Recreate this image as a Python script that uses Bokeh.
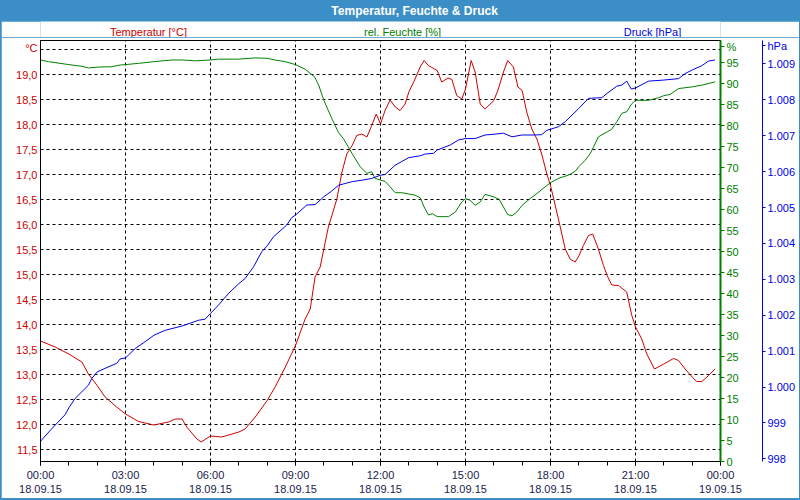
from bokeh.plotting import figure
from bokeh.models import Range1d, LinearAxis, FixedTicker, Label, Grid
from bokeh.layouts import column
from bokeh.embed import file_html
from bokeh.resources import INLINE

# ---------------- data ----------------
title_text = "Temperatur, Feuchte & Druck"
series_names = ["Temperatur [°C]", "rel. Feuchte [%]", "Druck [hPa]"]
unit_names = ["°C", "%", "hPa"]

temp_h = [0, 0.52, 1.0, 1.46, 1.69, 2.0, 2.28, 2.69, 3.0, 3.46, 4.0, 4.52, 4.75, 5.0, 5.16, 5.52, 5.67, 6.0,
          6.4, 7.0, 7.22, 7.58, 8.0, 8.28, 8.64, 9.0, 9.34, 9.52, 9.69, 9.87, 10.0, 10.16, 10.46, 10.64, 10.81,
          11.0, 11.16, 11.34, 11.52, 11.69, 11.85, 12.0,
          12.16, 12.34, 12.52, 12.69, 12.87, 13.0, 13.22, 13.4, 13.54, 13.69, 14.0, 14.16, 14.38, 14.52, 14.69,
          14.87, 15.0, 15.2, 15.34, 15.52, 15.69, 16.0, 16.16, 16.34, 16.49, 16.69, 16.85, 17.0, 17.16, 17.34,
          17.52, 17.69, 17.87, 18.0,
          18.28, 18.52, 18.69, 18.87, 19.0, 19.16, 19.34, 19.49, 19.69, 19.87, 20.0, 20.16, 20.4, 20.69, 20.87,
          21.0, 21.22, 21.4, 21.67, 22.0, 22.34, 22.52, 22.75, 23.0, 23.16, 23.34, 23.58, 23.81]
temp_c = [13.67, 13.55, 13.41, 13.25, 13.01, 12.78, 12.55, 12.35, 12.21, 12.06, 11.99, 12.05, 12.11, 12.11, 11.95,
          11.71, 11.65, 11.77,
          11.75, 11.85, 11.91, 12.15, 12.48, 12.75, 13.15, 13.58, 14.11, 14.31, 14.95, 15.15, 15.51, 15.95, 16.51,
          17.05, 17.41, 17.58, 17.78, 17.81, 17.75, 17.98, 18.21, 18.01,
          18.28, 18.49, 18.35, 18.28, 18.41, 18.65, 18.91, 19.15, 19.28, 19.18, 19.08, 18.85, 18.93, 18.9, 18.58,
          18.51, 18.71, 19.28, 19.05, 18.41, 18.31, 18.48, 18.71, 19.05, 19.28, 19.15, 18.75, 18.68, 18.25, 17.91,
          17.71, 17.41, 17.01, 16.78,
          16.11, 15.51, 15.31, 15.25, 15.37, 15.58, 15.78, 15.81, 15.51, 15.18, 14.98, 14.79, 14.78, 14.65, 14.18,
          13.95, 13.71, 13.41, 13.11, 13.21, 13.32, 13.28, 13.11, 12.95, 12.86, 12.86, 12.98, 13.11]

hum_h = [0, 0.28, 1.0, 1.46, 1.69, 2.0, 2.52, 2.81, 3.0, 3.46, 4.0, 4.64, 5.0, 5.46, 6.0,
         6.28, 7.0, 7.58, 8.0, 8.28, 8.64, 9.0, 9.34, 9.67, 9.82, 10.0, 10.28, 10.52, 10.69, 11.0, 11.28, 11.52,
         11.69, 11.81, 12.0,
         12.16, 12.34, 12.52, 12.75, 13.0, 13.22, 13.4, 13.54, 13.69, 13.84, 14.0, 14.4, 14.64, 14.87, 15.0, 15.16,
         15.34, 15.52, 15.69, 16.0, 16.19, 16.34, 16.49, 16.64, 16.81, 17.0, 17.28, 17.52, 17.81, 18.0,
         18.28, 18.64, 18.87, 19.0, 19.22, 19.4, 19.52, 19.69, 20.0, 20.16, 20.34, 20.52, 20.69, 20.87, 21.0, 21.46,
         21.81, 22.0, 22.22, 22.52, 23.0, 23.34, 23.81]
hum_pct = [95.6, 95.2, 94.5, 94.1, 93.7, 93.9, 94.0, 94.4, 94.5, 94.8, 95.2, 95.6, 95.6, 95.4, 95.6,
           95.8, 95.8, 96.1, 96.0, 95.6, 95.2, 94.5, 93.4, 91.6, 89.6, 86.0, 81.7, 78.3, 76.9, 73.3, 70.2, 68.6,
           69.0, 67.4, 67.0,
           66.7, 65.4, 64.0, 64.0, 63.7, 63.4, 62.8, 60.6, 58.7, 59.0, 58.3, 58.3, 59.4, 61.8, 62.6, 62.2, 61.0,
           61.8, 63.6, 63.0, 62.4, 60.6, 58.8, 58.5, 59.4, 61.0, 62.6, 63.8, 65.4, 66.4,
           67.4, 68.2, 69.1, 70.2, 71.7, 73.3, 74.9, 77.3, 78.5, 79.1, 80.9, 82.9, 83.3, 85.2, 86.0, 86.0, 86.6,
           87.1, 87.4, 88.8, 89.2, 89.6, 90.4]

press_h = [0, 0.4, 0.87, 1.0, 1.22, 1.69, 1.81, 2.0, 2.28, 2.69, 2.81, 3.0, 3.34, 3.69, 4.0, 4.4, 5.0, 5.58, 5.81, 6.0,
           6.28, 6.64, 7.0, 7.22, 7.52, 7.81, 8.0, 8.22, 8.69, 8.87, 9.0, 9.4, 9.69, 10.0, 10.28, 10.52, 11.0,
           11.34, 11.69, 12.0,
           12.16, 12.52, 13.0, 13.4, 13.58, 13.87, 14.0, 14.46, 14.75, 15.0, 15.34, 15.69, 16.0, 16.34, 16.64,
           17.0, 17.46, 17.69, 17.87, 18.0,
           18.28, 18.52, 19.0, 19.34, 19.81, 20.0, 20.34, 20.52, 20.69, 20.85, 21.0, 21.46, 22.0, 22.52, 22.75,
           23.0, 23.34, 23.58, 23.81]
press_hpa = [998.49, 998.84, 999.23, 999.42, 999.68, 1000.05, 1000.24, 1000.42, 1000.52, 1000.66, 1000.78, 1000.81,
             1001.07, 1001.26, 1001.44, 1001.58, 1001.70, 1001.86, 1001.89, 1002.05,
             1002.28, 1002.61, 1002.88, 1003.02, 1003.35, 1003.77, 1003.93, 1004.18, 1004.51, 1004.72, 1004.79,
             1005.07, 1005.08, 1005.30, 1005.46, 1005.62, 1005.72, 1005.76, 1005.81, 1005.90,
             1005.92, 1006.18, 1006.39, 1006.44, 1006.49, 1006.51, 1006.60, 1006.74, 1006.88, 1006.92, 1006.92,
             1007.02, 1007.04, 1007.07, 1006.97, 1007.02, 1007.02, 1007.03, 1007.15, 1007.18,
             1007.25, 1007.39, 1007.76, 1008.04, 1008.06, 1008.18, 1008.38, 1008.41, 1008.52, 1008.30, 1008.33,
             1008.52, 1008.55, 1008.59, 1008.73, 1008.83, 1008.95, 1009.08, 1009.11]

x_ticks = [0, 3, 6, 9, 12, 15, 18, 21, 24]
x_minor_ticks = list(range(0, 25))
x_tick_labels = ["00:00\n18.09.15", "03:00\n18.09.15", "06:00\n18.09.15", "09:00\n18.09.15",
                 "12:00\n18.09.15", "15:00\n18.09.15", "18:00\n18.09.15", "21:00\n18.09.15",
                 "00:00\n19.09.15"]
temp_ticks = [11.5, 12.0, 12.5, 13.0, 13.5, 14.0, 14.5, 15.0, 15.5, 16.0, 16.5, 17.0, 17.5, 18.0, 18.5, 19.0]
temp_tick_labels = ["11,5", "12,0", "12,5", "13,0", "13,5", "14,0", "14,5", "15,0", "15,5", "16,0",
                    "16,5", "17,0", "17,5", "18,0", "18,5", "19,0"]
hum_ticks = [0, 5, 10, 15, 20, 25, 30, 35, 40, 45, 50, 55, 60, 65, 70, 75, 80, 85, 90, 95]
press_ticks = [998, 999, 1000, 1001, 1002, 1003, 1004, 1005, 1006, 1007, 1008, 1009]
press_tick_labels = ["998", "999", "1.000", "1.001", "1.002", "1.003", "1.004", "1.005", "1.006",
                     "1.007", "1.008", "1.009"]

# ---------------- layout constants ----------------
X_RANGE = (0, 24)
TEMP_RANGE = (11.26, 19.68)
HUM_RANGE = (0, 100.24)
PRESS_RANGE = (997.925, 1009.652)
TEMP_GRID_TOP = 19.5              # extra dashed line at the top
UNIT_POS = [19.54, 98.8, 1009.5]  # where the unit captions sit on each axis
TITLE_X = 13.2                    # title centre, in x-axis units (frames are aligned)
HEAD_X = [3.81, 12.78, 21.6]      # caption centres, in x-axis units

FONT = "Liberation Sans"
FS = "11px"
BAR = "#3c8fc6"
RED = "#cc0000"
GREEN = "#008000"
BLUE = "#0000e6"

# ---------------- title bar ----------------
bar = figure(width=800, height=21, x_range=Range1d(*X_RANGE), y_range=Range1d(0, 21),
             output_backend="svg", toolbar_location=None, x_axis_type=None, y_axis_type=None,
             min_border=0, background_fill_color=BAR, border_fill_color=BAR, outline_line_color=None)
bar.add_layout(Label(x=TITLE_X, y=10.5, text=title_text, text_align="center", text_baseline="middle",
                     text_color="white", text_font=FONT, text_font_size="12px", text_font_style="bold"))

# ---------------- caption strip ----------------
head = figure(width=798, height=16, x_range=Range1d(*X_RANGE), y_range=Range1d(0, 16),
              output_backend="svg", toolbar_location=None, x_axis_type=None, y_axis_type=None,
              min_border=0, background_fill_color="white", border_fill_color="white",
              outline_line_color=None, margin=(0, 1, 0, 1))
for name, xc, col in zip(series_names, HEAD_X, [RED, GREEN, BLUE]):
    head.add_layout(Label(x=xc, y=6, text=name, text_align="center", text_baseline="middle",
                          text_color=col, text_font=FONT, text_font_size=FS))

# ---------------- main chart ----------------
p = figure(frame_width=680, frame_height=421,
           min_border_left=39, min_border_right=79, min_border_top=3, min_border_bottom=37,
           x_range=Range1d(*X_RANGE), y_range=Range1d(*TEMP_RANGE),
           output_backend="svg", toolbar_location=None, x_axis_type=None, y_axis_type=None,
           background_fill_color="white", border_fill_color="white",
           outline_line_color="black", outline_line_width=1, margin=(0, 1, 2, 1))
p.extra_y_ranges = {"hum": Range1d(*HUM_RANGE), "press": Range1d(*PRESS_RANGE)}

p.add_layout(Grid(dimension=1, ticker=FixedTicker(ticks=temp_ticks + [TEMP_GRID_TOP]), grid_line_color="black",
                  grid_line_dash="3 3", grid_line_width=1))
p.add_layout(Grid(dimension=0, ticker=FixedTicker(ticks=x_ticks), grid_line_color="black",
                  grid_line_dash="3 3", grid_line_width=1))

xaxis = LinearAxis(ticker=FixedTicker(ticks=x_ticks, minor_ticks=x_minor_ticks),
                   major_label_overrides=dict(zip(x_ticks, x_tick_labels)),
                   axis_line_color="black", major_tick_out=4, major_tick_in=0,
                   minor_tick_out=4, minor_tick_in=0, major_tick_line_color="black",
                   minor_tick_line_color="black", major_label_standoff=3,
                   major_label_text_font=FONT, major_label_text_font_size=FS,
                   major_label_text_color="#1a1a4d")
p.add_layout(xaxis, "below")

yleft = LinearAxis(ticker=FixedTicker(ticks=temp_ticks + [UNIT_POS[0]]),
                   major_label_overrides=dict(zip(temp_ticks + [UNIT_POS[0]], temp_tick_labels + [unit_names[0]])),
                   axis_line_color="black", major_tick_out=0, major_tick_in=0, minor_tick_line_color=None,
                   major_label_standoff=3, major_label_text_font=FONT, major_label_text_font_size=FS,
                   major_label_text_color=RED)
p.add_layout(yleft, "left")

hum_axis_ticks = hum_ticks + [UNIT_POS[1]]
hum_axis_labels = [str(v) for v in hum_ticks] + [unit_names[1]]
yhum = LinearAxis(y_range_name="hum", ticker=FixedTicker(ticks=hum_axis_ticks),
                  major_label_overrides=dict(zip(hum_axis_ticks, hum_axis_labels)),
                  axis_line_color=GREEN, axis_line_width=2, major_tick_line_color=GREEN,
                  major_tick_out=4, major_tick_in=0, minor_tick_line_color=None,
                  major_label_standoff=2, major_label_text_font=FONT, major_label_text_font_size=FS,
                  major_label_text_color=GREEN,
                  axis_label=" ", axis_label_standoff=6, axis_label_text_font_size=FS)
p.add_layout(yhum, "right")

press_axis_ticks = press_ticks + [UNIT_POS[2]]
press_axis_labels = press_tick_labels + [unit_names[2]]
ypress = LinearAxis(y_range_name="press", ticker=FixedTicker(ticks=press_axis_ticks),
                    major_label_overrides=dict(zip(press_axis_ticks, press_axis_labels)),
                    axis_line_color=BLUE, major_tick_line_color=BLUE, major_tick_out=3, major_tick_in=0,
                    minor_tick_line_color=None, major_label_standoff=2,
                    major_label_text_font=FONT, major_label_text_font_size=FS,
                    major_label_text_color=BLUE)
p.add_layout(ypress, "right")

p.line(temp_h, temp_c, line_color=RED, line_width=1)
p.line(hum_h, hum_pct, y_range_name="hum", line_color=GREEN, line_width=1)
p.line(press_h, press_hpa, y_range_name="press", line_color=BLUE, line_width=1)

layout = column(bar, head, p, spacing=0, styles={"background-color": BAR})

open("out.html", "w").write(file_html(layout, INLINE))
